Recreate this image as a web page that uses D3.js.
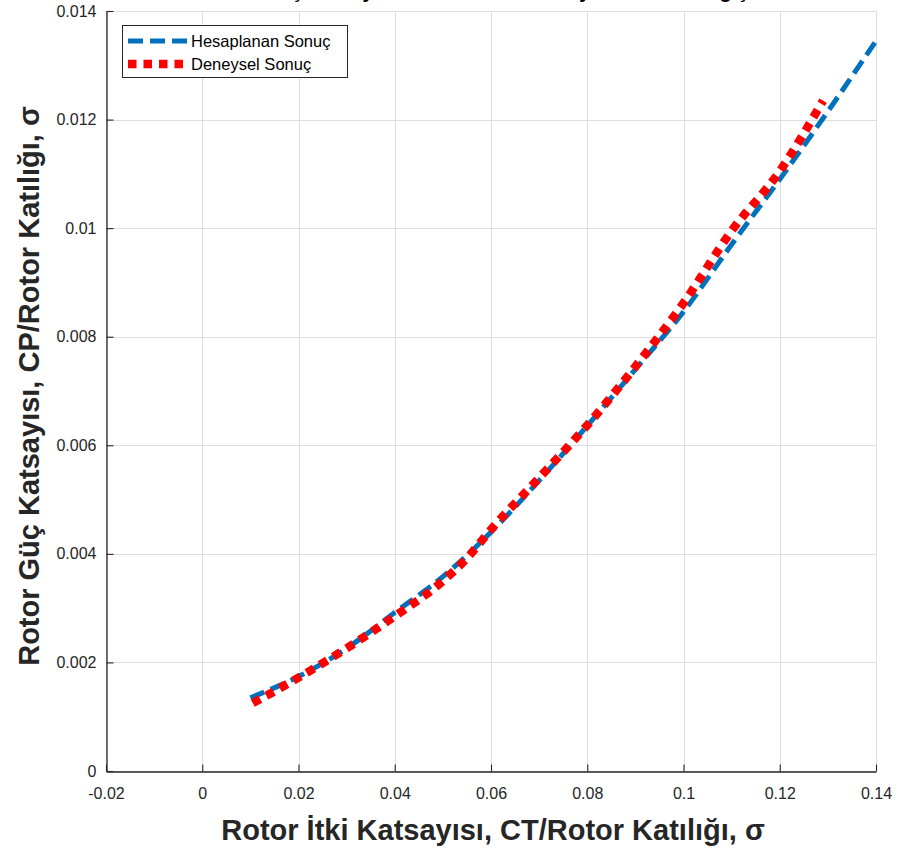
<!DOCTYPE html>
<html>
<head>
<meta charset="utf-8">
<script src="https://cdn.jsdelivr.net/npm/d3@7"></script>
<style>
  html, body { margin: 0; padding: 0; background: #fff; }
  svg { display: block; font-family: "Liberation Sans", Arial, sans-serif; }
</style>
</head>
<body>
<svg id="chart" width="901" height="852"></svg>
<script>
// Rotor thrust coefficient / solidity (x) vs power coefficient / solidity (y)
const calcCT = [0.010, 0.020, 0.030, 0.040, 0.050, 0.060, 0.070, 0.080, 0.090, 0.100, 0.110, 0.120, 0.130, 0.140];
const calcCP = [0.00135, 0.00174, 0.00226, 0.00292, 0.00358, 0.00440, 0.00535, 0.00636, 0.00740, 0.00846, 0.00970, 0.01090, 0.01215, 0.01345];

const expCT = [0.0105, 0.020, 0.030, 0.040, 0.050, 0.055, 0.060, 0.070, 0.080, 0.090, 0.100, 0.110, 0.120, 0.129];
const expCP = [0.00125, 0.00172, 0.00226, 0.00285, 0.00350, 0.00392, 0.00445, 0.00540, 0.00637, 0.00745, 0.00862, 0.00995, 0.01105, 0.01235];

const xTicks = [-0.02, 0, 0.02, 0.04, 0.06, 0.08, 0.1, 0.12, 0.14];
const yTicks = [0, 0.002, 0.004, 0.006, 0.008, 0.01, 0.012, 0.014];

const seriesNames = ["Hesaplanan Sonuç", "Deneysel Sonuç"];
const titleText = "Rotor Güç Katsayısının Rotor İtki Katsayısına Göre Değişimi";
const xLabel = "Rotor İtki Katsayısı, CT/Rotor Katılığı, σ";
const yLabel = "Rotor Güç Katsayısı, CP/Rotor Katılığı, σ";

const svg = d3.select("#chart");
const m = { left: 106, right: 876, top: 11, bottom: 771 };

const x = d3.scaleLinear().domain([-0.02, 0.14]).range([m.left, m.right]);
const y = d3.scaleLinear().domain([0, 0.014]).range([m.bottom, m.top]);

// plain hyphen for negatives, trimmed decimals
const fmt = d => (d === 0 ? "0" : String(+d.toFixed(3)));

// grid
const grid = svg.append("g").attr("stroke", "#dedede").attr("stroke-width", 1);
grid.selectAll(".gx").data(xTicks).join("line")
  .attr("x1", d => Math.round(x(d)) + 0.5).attr("x2", d => Math.round(x(d)) + 0.5)
  .attr("y1", m.top).attr("y2", m.bottom);
grid.selectAll(".gy").data(yTicks).join("line")
  .attr("y1", d => Math.round(y(d)) + 0.5).attr("y2", d => Math.round(y(d)) + 0.5)
  .attr("x1", m.left).attr("x2", m.right);

// axes (ticks point inward)
const xAxis = d3.axisBottom(x).tickValues(xTicks).tickFormat(fmt).tickSizeInner(-7).tickSizeOuter(0).tickPadding(16);
const yAxis = d3.axisLeft(y).tickValues(yTicks).tickFormat(fmt).tickSizeInner(-7).tickSizeOuter(0).tickPadding(10);

const gx = svg.append("g").attr("transform", `translate(0,${m.bottom + 0.5})`).call(xAxis);
const gy = svg.append("g").attr("transform", `translate(${m.left + 0.5},0)`).call(yAxis);
[gx, gy].forEach(g => {
  g.select(".domain").attr("stroke", "#262626").attr("stroke-width", 1.3);
  g.selectAll(".tick line").attr("stroke", "#262626").attr("stroke-width", 1.1);
  g.selectAll(".tick text").attr("fill", "#262626").style("font-size", "16px")
    .style("font-family", "'Liberation Sans', Arial, sans-serif");
});
gx.selectAll(".tick text").attr("dy", "0.71em");

// series lines
const lineGen = d3.line().x(d => x(d[0])).y(d => y(d[1])).curve(d3.curveMonotoneX);
const calcPts = calcCT.map((v, i) => [v, calcCP[i]]);
const expPts = expCT.map((v, i) => [v, expCP[i]]);

svg.append("path").datum(calcPts).attr("d", lineGen)
  .attr("fill", "none").attr("stroke", "#0072BD").attr("stroke-width", 5)
  .attr("stroke-dasharray", "15,7");
svg.append("path").datum(expPts).attr("d", lineGen)
  .attr("fill", "none").attr("stroke", "#FF0000").attr("stroke-width", 8.5)
  .attr("stroke-dasharray", "8.5,7");

// legend
const lg = svg.append("g");
lg.append("rect").attr("x", 122.5).attr("y", 25.5).attr("width", 225).attr("height", 52)
  .attr("fill", "#fff").attr("stroke", "#262626").attr("stroke-width", 1);
const styles = [
  { color: "#0072BD", w: 5, dash: "15,7", dy: 41 },
  { color: "#FF0000", w: 8.5, dash: "8.5,7", dy: 64 }
];
seriesNames.forEach((name, i) => {
  const s = styles[i];
  lg.append("line").attr("x1", 128).attr("x2", 188).attr("y1", s.dy).attr("y2", s.dy)
    .attr("stroke", s.color).attr("stroke-width", s.w).attr("stroke-dasharray", s.dash);
  lg.append("text").attr("x", 191).attr("y", s.dy).attr("dy", "0.36em")
    .attr("fill", "#000").style("font-size", "16.5px").text(name);
});

// axis labels
svg.append("text").attr("x", 493).attr("y", 840).attr("text-anchor", "middle")
  .attr("fill", "#262626").style("font-size", "29px").style("font-weight", "bold").text(xLabel);
svg.append("text").attr("transform", "translate(39,386) rotate(-90)").attr("text-anchor", "middle")
  .attr("fill", "#262626").style("font-size", "29px").style("font-weight", "bold").text(yLabel);

// title (runs off the top edge)
svg.append("text").attr("x", 491).attr("y", -2).attr("text-anchor", "middle")
  .attr("fill", "#000").style("font-size", "20px").style("font-weight", "bold").text(titleText);
</script>
</body>
</html>
